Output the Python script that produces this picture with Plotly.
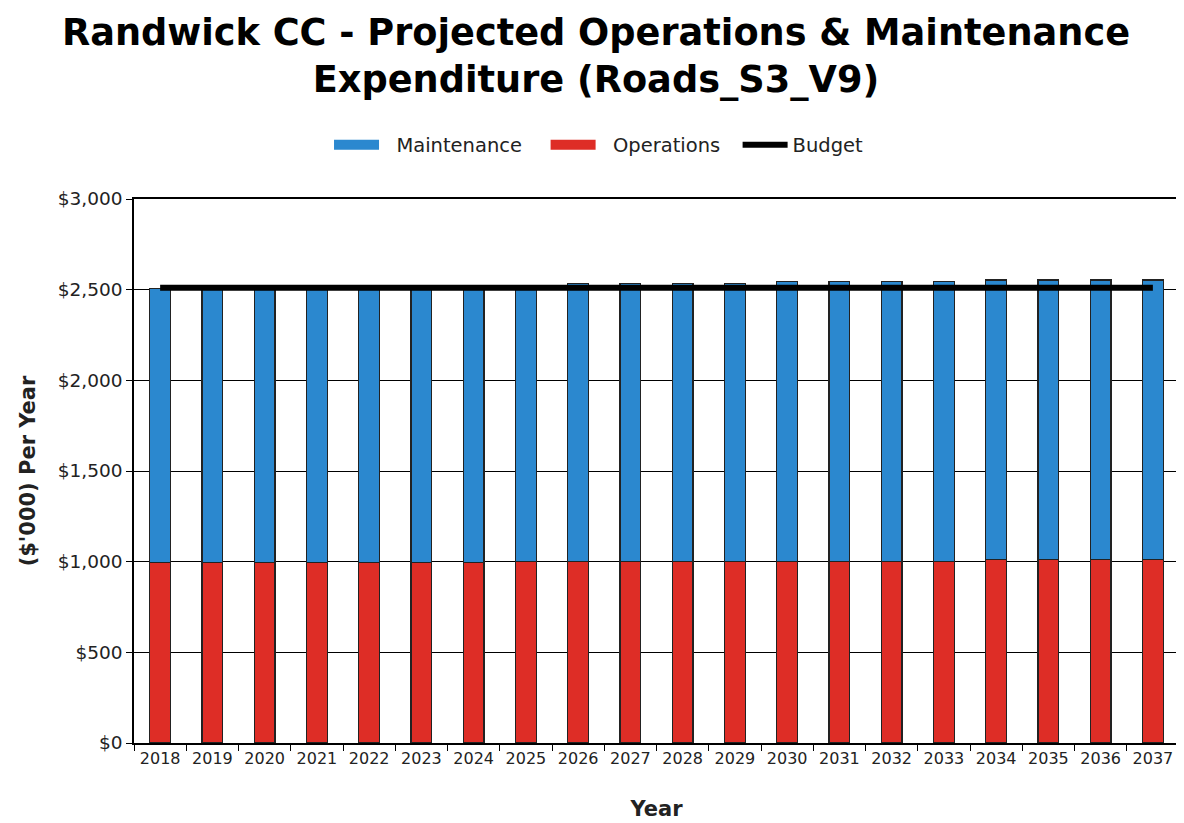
import plotly.graph_objects as go

years = [str(y) for y in range(2018, 2038)]
operations = [995, 995, 995, 995, 995, 995, 995, 1000, 1000, 1002, 1002, 1002, 1003, 1003, 1003, 1003, 1012, 1012, 1012, 1012]
totals = [2505, 2505, 2505, 2505, 2505, 2505, 2505, 2508, 2533, 2533, 2533, 2533, 2543, 2543, 2543, 2543, 2553, 2553, 2553, 2553]
maintenance = [t - o for t, o in zip(totals, operations)]
budget = [2510] * 20

BLUE = "#2B88CF"
RED = "#DE2D26"
SP = "\u00a0"

fig = go.Figure()
fig.add_trace(go.Bar(x=years, y=operations, name="Operations",
                     marker=dict(color=RED, line=dict(color="#222222", width=1.2)),
                     showlegend=False))
fig.add_trace(go.Bar(x=years, y=maintenance, name="Maintenance",
                     marker=dict(color=BLUE, line=dict(color="#222222", width=1.2)),
                     showlegend=False))
fig.add_trace(go.Scatter(x=years, y=budget, name="Budget", mode="lines",
                         line=dict(color="black", width=6), showlegend=False))
# legend entries
fig.add_trace(go.Scatter(x=[None], y=[None], mode="lines", name=SP * 2 + "Maintenance" + SP * 3,
                         line=dict(color=BLUE, width=14)))
fig.add_trace(go.Scatter(x=[None], y=[None], mode="lines", name=SP * 2 + "Operations" + SP * 2,
                         line=dict(color=RED, width=14)))
fig.add_trace(go.Scatter(x=[None], y=[None], mode="lines", name="Budget",
                         line=dict(color="black", width=6)))

fig.update_layout(
    barmode="stack",
    bargap=0.6,
    width=1176, height=815,
    margin=dict(l=126, r=3, t=191, b=80),
    paper_bgcolor="white",
    plot_bgcolor="white",
    title=dict(text="Randwick CC - Projected Operations & Maintenance<br>Expenditure (Roads_S3_V9)",
               x=0.5, xanchor="center", xref="container", yref="container", y=0.955, yanchor="top",
               font=dict(family="DejaVu Sans", size=36.7, color="black", weight="bold")),
    legend=dict(orientation="h", x=0.445, xanchor="center", y=1.099, yanchor="middle",
                font=dict(family="DejaVu Sans", size=19.5, color="#222"),
                traceorder="normal", itemwidth=45),
    font=dict(family="DejaVu Sans", color="#222"),
)
fig.update_xaxes(
    type="category",
    showline=True, linecolor="black", linewidth=1.5, mirror=True,
    ticks="outside", ticklen=6, tickcolor="black", tickson="boundaries",
    tickfont=dict(size=16, color="#222"),
    title=dict(text="Year", font=dict(family="DejaVu Sans", size=21, color="#222", weight="bold"), standoff=34),
    showgrid=False,
)
fig.update_yaxes(
    range=[0, 3000], tickvals=[0, 500, 1000, 1500, 2000, 2500, 3000],
    ticktext=["$0", "$500", "$1,000", "$1,500", "$2,000", "$2,500", "$3,000"],
    showline=True, linecolor="black", linewidth=1.5, mirror=True,
    ticks="outside", ticklen=6, tickcolor="black",
    showgrid=True, gridcolor="black", gridwidth=1.2,
    tickfont=dict(size=18.5, color="#222"),
    title=dict(text="($'000) Per Year", font=dict(family="DejaVu Sans", size=21, color="#222", weight="bold"), standoff=16),
    zeroline=False,
)

fig.write_html("out.html")
